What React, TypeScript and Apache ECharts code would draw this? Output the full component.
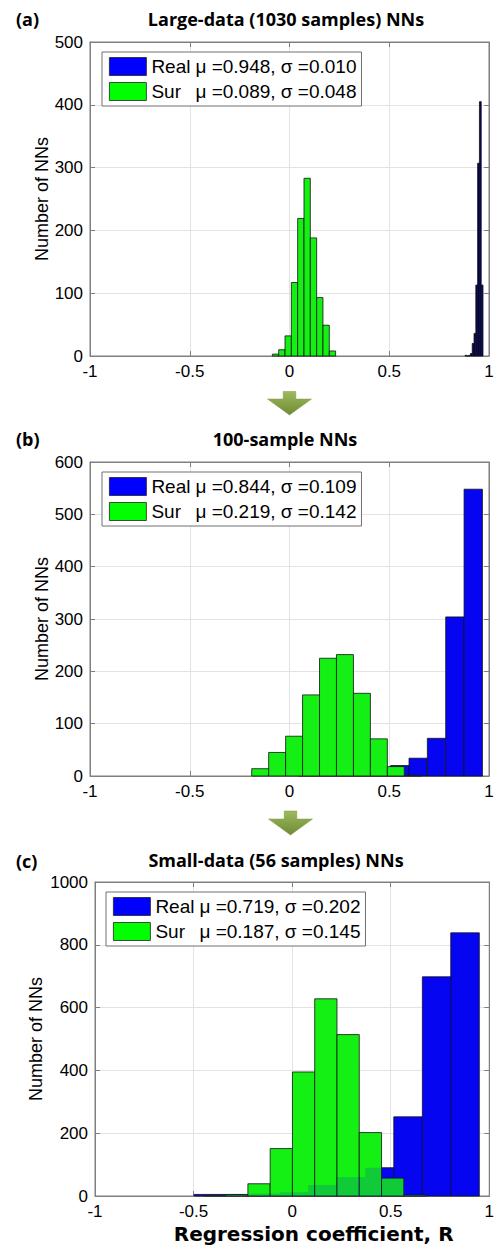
import React, { useEffect, useRef } from "react";
import * as echarts from "echarts";

// ---------- data ----------
const PANEL_LABELS = ["(a)", "(b)", "(c)"];
const PANEL_TITLES = [
  "Large-data (1030 samples) NNs",
  "100-sample NNs",
  "Small-data (56 samples) NNs",
];
const X_AXIS_NAME = "Regression coefficient, R";
const Y_AXIS_NAME = "Number of NNs";
const X_MIN = -1;
const X_MAX = 1;
const X_STEP = 0.5;
const Y_MAX = [500, 600, 1000];
const Y_STEP = [100, 100, 200];

const REAL_MU = ["0.948", "0.844", "0.719"];
const REAL_SIGMA = ["0.010", "0.109", "0.202"];
const SUR_MU = ["0.089", "0.219", "0.187"];
const SUR_SIGMA = ["0.048", "0.142", "0.145"];

// (a) large-data
const REAL_A_WIDTH = 0.009;
const REAL_A_CENTERS = [0.8845, 0.8935, 0.9025, 0.9115, 0.9205, 0.9295, 0.9385, 0.9475, 0.9565, 0.9655];
const REAL_A_COUNTS = [1, 0, 1, 4, 20, 36, 113, 307, 405, 113];
const SUR_A_WIDTH = 0.0317;
const SUR_A_CENTERS = [-0.07, -0.0383, -0.0066, 0.0251, 0.0568, 0.0885, 0.1202, 0.1519, 0.1836, 0.2153];
const SUR_A_COUNTS = [3, 10, 32, 117, 219, 283, 188, 93, 49, 8];

// (b) 100-sample
const REAL_B_WIDTH = 0.092;
const REAL_B_CENTERS = [0.093, 0.185, 0.277, 0.369, 0.461, 0.553, 0.645, 0.737, 0.829, 0.921];
const REAL_B_COUNTS = [1, 2, 4, 8, 12, 20, 34, 72, 304, 548];
const SUR_B_WIDTH = 0.085;
const SUR_B_CENTERS = [-0.147, -0.062, 0.023, 0.108, 0.193, 0.278, 0.363, 0.448, 0.533, 0.618];
const SUR_B_COUNTS = [14, 45, 76, 155, 225, 232, 158, 71, 18, 1];

// (c) small-data
const REAL_C_WIDTH = 0.1447;
const REAL_C_CENTERS = [-0.425, -0.28, -0.136, 0.009, 0.154, 0.298, 0.443, 0.588, 0.733, 0.877];
const REAL_C_COUNTS = [5, 5, 8, 12, 35, 60, 90, 252, 698, 838];
const SUR_C_WIDTH = 0.113;
const SUR_C_CENTERS = [-0.394, -0.281, -0.168, -0.055, 0.058, 0.171, 0.284, 0.397, 0.51, 0.623];
const SUR_C_COUNTS = [2, 4, 39, 151, 395, 628, 514, 202, 57, 3];

const REAL_CENTERS = [REAL_A_CENTERS, REAL_B_CENTERS, REAL_C_CENTERS];
const REAL_COUNTS = [REAL_A_COUNTS, REAL_B_COUNTS, REAL_C_COUNTS];
const REAL_WIDTHS = [REAL_A_WIDTH, REAL_B_WIDTH, REAL_C_WIDTH];
const SUR_CENTERS = [SUR_A_CENTERS, SUR_B_CENTERS, SUR_C_CENTERS];
const SUR_COUNTS = [SUR_A_COUNTS, SUR_B_COUNTS, SUR_C_COUNTS];
const SUR_WIDTHS = [SUR_A_WIDTH, SUR_B_WIDTH, SUR_C_WIDTH];

// ---------- layout / style ----------
const W = 497;
const H = 1247;
const GRIDS = [
  { left: 90, top: 42, width: 399, height: 314 },
  { left: 90, top: 462, width: 399, height: 314 },
  { left: 95, top: 882, width: 395, height: 314 },
];
const LEGEND_POS = [
  { left: 102, top: 52 },
  { left: 102, top: 472 },
  { left: 106, top: 892 },
];
const TITLE_POS = [
  { x: 286, y: 19 },
  { x: 285, y: 439 },
  { x: 276, y: 860 },
];
const LABEL_POS = [
  { x: 16, y: 19 },
  { x: 16, y: 439 },
  { x: 16, y: 861 },
];
const Y_NAME_GAP = [39, 39, 50];
const ARROWS = [
  { cx: 289.5, top: 391.5, neck: 399, tip: 415 },
  { cx: 290.5, top: 811, neck: 819, tip: 835 },
];

const TICK_FONT = "Liberation Sans";
const BOLD_FONT = "Open Sans";
const XNAME_FONT = "DejaVu Sans";
const AXIS_GRAY = "#7f7f7f";
const GRID_GRAY = "#e3e3e3";
const REAL_COLORS = ["#00006e", "#0505f2", "#0505f2"];
const REAL_LEGEND_COLOR = "#0000ff";
const SUR_COLOR = "#14f014";
const SUR_LEGEND_COLOR = "#00ff00";
// panel (c): the real histogram shows faintly through the surrogate bars
const SHOW_THROUGH = [0, 0, 0.16];

function histRender(width: number, fill: string, opacity: number, stroke: boolean) {
  return (params: any, api: any) => {
    const c = api.value(0);
    const h = api.value(1);
    const p0 = api.coord([c - width / 2, h]);
    const p1 = api.coord([c + width / 2, 0]);
    return {
      type: "rect",
      shape: { x: p0[0], y: p0[1], width: p1[0] - p0[0], height: p1[1] - p0[1] },
      style: stroke
        ? { fill, stroke: "#111", lineWidth: 0.8, opacity }
        : { fill, stroke: null, lineWidth: 0, opacity },
    };
  };
}

function buildOption() {
  const grid: any[] = [];
  const xAxis: any[] = [];
  const yAxis: any[] = [];
  const series: any[] = [];
  const legend: any[] = [];
  const graphic: any[] = [];

  const labelMap: Record<string, { n: string; v: string }> = {};

  for (let i = 0; i < 3; i++) {
    grid.push({ ...GRIDS[i], show: true, borderColor: AXIS_GRAY, borderWidth: 1, containLabel: false });

    const xCommon = {
      type: "value",
      gridIndex: i,
      min: X_MIN,
      max: X_MAX,
      interval: X_STEP,
      axisLine: { show: true, onZero: false, lineStyle: { color: AXIS_GRAY, width: 1 } },
      axisTick: { show: true, inside: true, length: 5, lineStyle: { color: AXIS_GRAY } },
    };
    xAxis.push({
      ...xCommon,
      position: "bottom",
      axisLabel: {
        show: true,
        margin: 7,
        color: "#000",
        fontFamily: TICK_FONT,
        fontSize: 17,
        formatter: (v: number) => String(v),
      },
      splitLine: { show: true, lineStyle: { color: GRID_GRAY, width: 1 } },
      ...(i === 2
        ? {
            name: X_AXIS_NAME,
            nameLocation: "middle",
            nameGap: 27.5,
            nameMoveOverlap: false,
            nameTextStyle: {
              fontFamily: XNAME_FONT,
              fontWeight: "bold",
              fontSize: 20,
              color: "#000",
              padding: [0, 0, 0, 43],
            },
          }
        : {}),
    });
    xAxis.push({
      ...xCommon,
      position: "top",
      axisLabel: { show: false },
      splitLine: { show: false },
    });

    const yCommon = {
      type: "value",
      gridIndex: i,
      min: 0,
      max: Y_MAX[i],
      interval: Y_STEP[i],
      axisLine: { show: true, onZero: false, lineStyle: { color: AXIS_GRAY, width: 1 } },
      axisTick: { show: true, inside: true, length: 5, lineStyle: { color: AXIS_GRAY } },
    };
    yAxis.push({
      ...yCommon,
      position: "left",
      axisLabel: {
        show: true,
        margin: 7,
        color: "#000",
        fontFamily: TICK_FONT,
        fontSize: 17,
        formatter: (v: number) => String(v),
      },
      splitLine: { show: true, lineStyle: { color: GRID_GRAY, width: 1 } },
      name: Y_AXIS_NAME,
      nameLocation: "middle",
      nameGap: Y_NAME_GAP[i],
      nameMoveOverlap: false,
      nameTextStyle: { fontFamily: TICK_FONT, fontSize: 18, color: "#000" },
    });
    yAxis.push({
      ...yCommon,
      position: "right",
      axisLabel: { show: false },
      splitLine: { show: false },
    });

    const realName = "Real " + PANEL_LABELS[i];
    const surName = "Sur " + PANEL_LABELS[i];
    labelMap[realName] = { n: "Real", v: "\u03bc =" + REAL_MU[i] + ", \u03c3 =" + REAL_SIGMA[i] };
    labelMap[surName] = { n: "Sur", v: "\u03bc =" + SUR_MU[i] + ", \u03c3 =" + SUR_SIGMA[i] };

    const realData = REAL_CENTERS[i].map((c, k) => [c, REAL_COUNTS[i][k]]);
    series.push({
      type: "custom",
      name: realName,
      xAxisIndex: i * 2,
      yAxisIndex: i * 2,
      itemStyle: { color: REAL_COLORS[i] },
      renderItem: histRender(REAL_WIDTHS[i], REAL_COLORS[i], 1, true),
      data: realData,
      z: 2,
    });
    series.push({
      type: "custom",
      name: surName,
      xAxisIndex: i * 2,
      yAxisIndex: i * 2,
      itemStyle: { color: SUR_COLOR },
      renderItem: histRender(SUR_WIDTHS[i], SUR_COLOR, 1, true),
      data: SUR_CENTERS[i].map((c, k) => [c, SUR_COUNTS[i][k]]),
      z: 3,
    });
    if (SHOW_THROUGH[i] > 0) {
      series.push({
        type: "custom",
        name: realName + " overlay",
        xAxisIndex: i * 2,
        yAxisIndex: i * 2,
        itemStyle: { color: REAL_COLORS[i] },
        renderItem: histRender(REAL_WIDTHS[i], REAL_COLORS[i], SHOW_THROUGH[i], false),
        data: realData,
        z: 4,
        silent: true,
      });
    }

    const richBase = { fontFamily: TICK_FONT, fontSize: 19, color: "#000", lineHeight: 18 };
    legend.push({
      show: true,
      orient: "vertical",
      left: LEGEND_POS[i].left,
      top: LEGEND_POS[i].top,
      padding: [5, 5, 5, 7],
      itemGap: 6,
      itemWidth: 37,
      itemHeight: 18,
      selectedMode: false,
      backgroundColor: "#ffffff",
      borderColor: "#707070",
      borderWidth: 1,
      z: 10,
      data: [
        { name: realName, icon: "rect", itemStyle: { color: REAL_LEGEND_COLOR, borderColor: "#222", borderWidth: 0.8 } },
        { name: surName, icon: "rect", itemStyle: { color: SUR_LEGEND_COLOR, borderColor: "#222", borderWidth: 0.8 } },
      ],
      formatter: (name: string) => {
        const l = labelMap[name];
        return "{n|" + l.n + "}{v|" + l.v + "}";
      },
      textStyle: {
        ...richBase,
        rich: {
          n: { ...richBase, width: 44 },
          v: { ...richBase },
        },
      },
    });

    graphic.push({
      type: "text",
      x: TITLE_POS[i].x,
      y: TITLE_POS[i].y,
      style: {
        text: PANEL_TITLES[i],
        fontFamily: BOLD_FONT,
        fontWeight: "bold",
        fontSize: 18,
        fill: "#000",
        align: "center",
        verticalAlign: "middle",
      },
    });
    graphic.push({
      type: "text",
      x: LABEL_POS[i].x,
      y: LABEL_POS[i].y,
      style: {
        text: PANEL_LABELS[i],
        fontFamily: BOLD_FONT,
        fontWeight: "bold",
        fontSize: 18,
        fill: "#000",
        align: "left",
        verticalAlign: "middle",
      },
    });
  }

  for (const a of ARROWS) {
    const sw = 6.3;
    const hw = 22;
    graphic.push({
      type: "polygon",
      shape: {
        points: [
          [a.cx - sw, a.top],
          [a.cx + sw, a.top],
          [a.cx + sw, a.neck],
          [a.cx + hw, a.neck],
          [a.cx, a.tip],
          [a.cx - hw, a.neck],
          [a.cx - sw, a.neck],
        ],
      },
      style: {
        fill: new echarts.graphic.LinearGradient(0, 0, 0, 1, [
          { offset: 0, color: "#9dba5e" },
          { offset: 1, color: "#6e8a34" },
        ]),
        stroke: "#7c9a44",
        lineWidth: 0.5,
      },
    });
  }

  return {
    animation: false,
    backgroundColor: "#ffffff",
    grid,
    xAxis,
    yAxis,
    series,
    legend,
    graphic,
  };
}

export default function App() {
  const ref = useRef<HTMLDivElement>(null);
  useEffect(() => {
    if (!ref.current) return;
    const chart = echarts.init(ref.current, undefined, { renderer: "svg" });
    chart.setOption(buildOption() as any);
    return () => chart.dispose();
  }, []);
  return (
    <div
      ref={ref}
      style={{ position: "absolute", left: 0, top: 0, width: W, height: H }}
    />
  );
}
